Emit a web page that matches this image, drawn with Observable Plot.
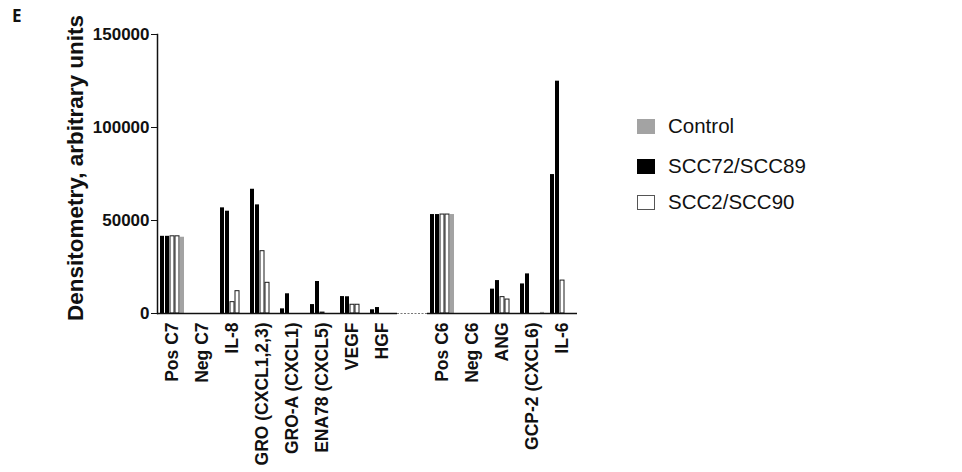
<!DOCTYPE html>
<html><head><meta charset="utf-8">
<script src="https://cdn.jsdelivr.net/npm/d3@7"></script>
<script src="https://cdn.jsdelivr.net/npm/@observablehq/plot@0.6"></script>
<style>
body{margin:0;background:#fff;font-family:"Liberation Sans",Arial,sans-serif;}
#wrap{position:relative;width:962px;height:472px;overflow:hidden;}
#wrap svg{position:absolute;left:0;top:0;}
.panel{position:absolute;left:12px;top:4px;font-weight:bold;font-size:17px;font-family:"Open Sans",sans-serif;color:#111;}
.item{position:absolute;left:637px;height:24px;display:flex;align-items:center;white-space:nowrap;font-size:20.5px;color:#111;}
.sw{width:18px;height:15px;margin-right:13px;box-sizing:border-box;}
</style></head><body>
<div id="wrap"></div>
<script>
const categories = ["Pos C7","Neg C7","IL-8","GRO (CXCL1,2,3)","GRO-A (CXCL1)","ENA78 (CXCL5)","VEGF","HGF","Pos C6","Neg C6","ANG","GCP-2 (CXCL6)","IL-6"];
const series = ["SCC72","SCC89","SCC2","SCC90","Control"];
const scc72   = [41500, 0, 56800, 66800,  2500,  4800, 9100, 2000, 53200, 0, 13100, 15900,  74700];
const scc89   = [41500, 0, 55000, 58400, 10600, 17200, 9000, 3200, 53200, 0, 17700, 21300, 124900];
const scc2    = [41500, 0,  6100, 33500,     0,   500, 4700,    0, 53200, 0,  8800,     0,  17700];
const scc90   = [41500, 0, 12000, 16500,     0,     0, 4700,    0, 53200, 0,  7500,     0,      0];
const control = [41000, 0,     0,     0,     0,     0,    0,    0, 53200, 0,     0,   600,      0];
const yTicks = [0, 50000, 100000, 150000];
const yLabel = "Densitometry, arbitrary units";
const legendLabels = ["Control", "SCC72/SCC89", "SCC2/SCC90"];
const gap = " ";

const seriesValues = [scc72, scc89, scc2, scc90, control];
const rows = [];
categories.forEach((c, i) => seriesValues.forEach((vals, s) => rows.push({category: c, series: series[s], value: vals[i]})));
const slots = [...categories.slice(0, 8), gap, ...categories.slice(8)];
const whiteSeries = new Set(["SCC2", "SCC90"]);

const chart = Plot.plot({
  width: 962, height: 472,
  marginLeft: 157, marginRight: 385, marginTop: 34, marginBottom: 159,
  style: {fontFamily: "Liberation Sans, Arial, sans-serif", color: "#111", background: "#fff"},
  fx: {domain: slots, padding: 0, label: null},
  x: {domain: series, paddingInner: 0.25, paddingOuter: 0.35, axis: null},
  y: {domain: [0, 150000]},
  color: {domain: series, range: ["#000", "#000", "#fff", "#fff", "#a3a3a3"]},
  marks: [
    Plot.barY(rows.filter(d => !whiteSeries.has(d.series)), {fx: "category", x: "series", y: "value", fill: "series"}),
    Plot.barY(rows.filter(d => whiteSeries.has(d.series)), {fx: "category", x: "series", y: "value", fill: "white", stroke: "#1a1a1a", strokeWidth: 1}),
    Plot.ruleY(categories, {fx: d => d, y: () => 0, stroke: "#111", strokeWidth: 1.5}),
    Plot.ruleY([gap], {fx: d => d, y: () => 0, stroke: "#777", strokeWidth: 1.2, strokeDasharray: "2,1.5"}),
    Plot.frame({anchor: "left", facetAnchor: "left", stroke: "#111", strokeWidth: 1.5}),
    Plot.axisY({ticks: yTicks, tickSize: 6, tickPadding: 2, tickFormat: d3.format("d"), fontSize: 17, fontWeight: "bold", label: null}),
    Plot.text([yLabel], {text: d => d, frameAnchor: "left", facetAnchor: "left", textAnchor: "middle", rotate: -90, dx: -82, dy: -6, fontSize: 22.5, fontWeight: "bold", fill: "#111"}),
    Plot.axisFx({anchor: "bottom", tickRotate: -90, tickSize: 0, tickPadding: 9, fontSize: 17.5, fontWeight: "bold", label: null, tickFormat: d => d === gap ? "" : d})
  ]
});

const wrap = document.getElementById("wrap");
wrap.appendChild(chart);
const panel = document.createElement("div");
panel.className = "panel"; panel.textContent = "E";
wrap.appendChild(panel);
const swatchStyles = [
  {background: "#a3a3a3"},
  {background: "#000"},
  {background: "#fff", border: "1.5px solid #555"}
];
const centers = [126, 166, 202];
legendLabels.forEach((lab, i) => {
  const it = document.createElement("div");
  it.className = "item";
  it.style.top = (centers[i] - 12) + "px";
  const sw = document.createElement("div");
  sw.className = "sw";
  Object.assign(sw.style, swatchStyles[i]);
  const tx = document.createElement("span");
  tx.textContent = lab;
  it.appendChild(sw); it.appendChild(tx);
  wrap.appendChild(it);
});
</script>
</body></html>
